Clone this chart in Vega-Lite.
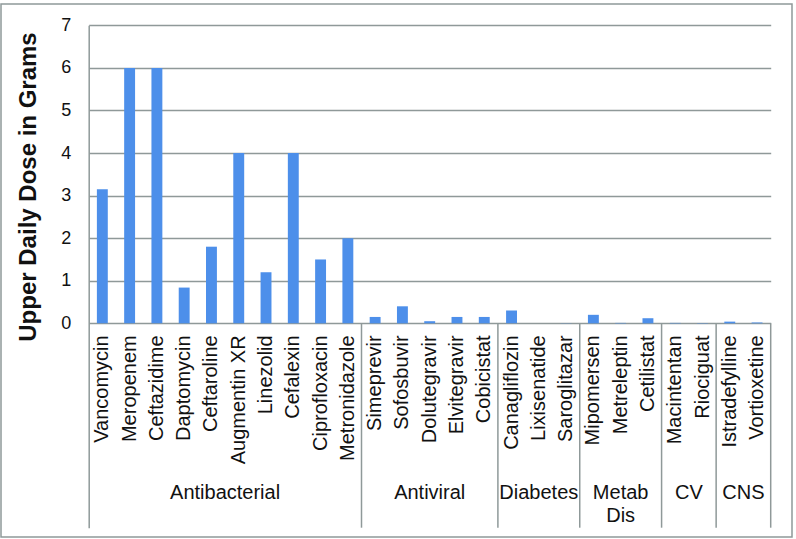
{
  "$schema": "https://vega.github.io/schema/vega-lite/v6.json",
  "width": 791,
  "height": 533,
  "autosize": {"type": "none"},
  "padding": {"left": 1, "top": 4, "right": 4, "bottom": 2},
  "background": "white",
  "config": {
    "view": {"stroke": "#8f9999", "strokeWidth": 1.5},
    "font": "Liberation Sans"
  },
  "data": {
    "values": [
      {"drug": "Vancomycin", "group": "Antibacterial", "dose": 3.15},
      {"drug": "Meropenem", "group": "Antibacterial", "dose": 6},
      {"drug": "Ceftazidime", "group": "Antibacterial", "dose": 6},
      {"drug": "Daptomycin", "group": "Antibacterial", "dose": 0.84},
      {"drug": "Ceftaroline", "group": "Antibacterial", "dose": 1.8},
      {"drug": "Augmentin XR", "group": "Antibacterial", "dose": 4},
      {"drug": "Linezolid", "group": "Antibacterial", "dose": 1.2},
      {"drug": "Cefalexin", "group": "Antibacterial", "dose": 4},
      {"drug": "Ciprofloxacin", "group": "Antibacterial", "dose": 1.5},
      {"drug": "Metronidazole", "group": "Antibacterial", "dose": 2},
      {"drug": "Simeprevir", "group": "Antiviral", "dose": 0.15},
      {"drug": "Sofosbuvir", "group": "Antiviral", "dose": 0.4},
      {"drug": "Dolutegravir", "group": "Antiviral", "dose": 0.05},
      {"drug": "Elvitegravir", "group": "Antiviral", "dose": 0.15},
      {"drug": "Cobicistat", "group": "Antiviral", "dose": 0.15},
      {"drug": "Canagliflozin", "group": "Diabetes", "dose": 0.3},
      {"drug": "Lixisenatide", "group": "Diabetes", "dose": 0.00002},
      {"drug": "Saroglitazar", "group": "Diabetes", "dose": 0.004},
      {"drug": "Mipomersen", "group": "Metab Dis", "dose": 0.2},
      {"drug": "Metreleptin", "group": "Metab Dis", "dose": 0.01},
      {"drug": "Cetilistat", "group": "Metab Dis", "dose": 0.12},
      {"drug": "Macintentan", "group": "CV", "dose": 0.01},
      {"drug": "Riociguat", "group": "CV", "dose": 0.0075},
      {"drug": "Istradefylline", "group": "CNS", "dose": 0.04},
      {"drug": "Vortioxetine", "group": "CNS", "dose": 0.02}
    ]
  },
  "layer": [
    {
      "mark": {"type": "bar", "color": "#4d8fea", "width": {"band": 0.4}},
      "encoding": {
        "x": {
          "field": "drug", "type": "nominal", "sort": null, "axis": null,
          "scale": {
            "domain": ["Vancomycin", "Meropenem", "Ceftazidime", "Daptomycin", "Ceftaroline", "Augmentin XR", "Linezolid", "Cefalexin", "Ciprofloxacin", "Metronidazole", "Simeprevir", "Sofosbuvir", "Dolutegravir", "Elvitegravir", "Cobicistat", "Canagliflozin", "Lixisenatide", "Saroglitazar", "Mipomersen", "Metreleptin", "Cetilistat", "Macintentan", "Riociguat", "Istradefylline", "Vortioxetine"],
            "range": [87.7, 769.7], "paddingInner": 0, "paddingOuter": 0
          }
        },
        "y": {
          "field": "dose", "type": "quantitative",
          "scale": {"domain": [-4.8, 7], "range": [523.7, 21.3], "nice": false, "zero": true},
          "axis": {
            "values": [0, 1, 2, 3, 4, 5, 6, 7],
            "offset": -87.7,
            "grid": true, "gridColor": "#8f9999", "gridWidth": 1.5,
            "domain": true, "domainColor": "#8f9999", "domainWidth": 1.5,
            "ticks": false,
            "labelFontSize": 18, "labelColor": "#111111", "labelPadding": 18,
            "labelFont": "Liberation Sans",
            "title": "Upper Daily Dose in Grams",
            "titleFont": "Liberation Sans", "titleFontSize": 24, "titleFontWeight": "bold",
            "titleColor": "#111111", "titleY": 182.5, "titlePadding": 20
          }
        }
      }
    },
    {
      "transform": [{"filter": {"field": "drug", "oneOf": ["Simeprevir", "Canagliflozin", "Mipomersen", "Macintentan", "Istradefylline"]}}],
      "mark": {"type": "rule", "color": "#8f9999", "strokeWidth": 1.5},
      "encoding": {
        "x": {"field": "drug", "type": "nominal", "sort": null, "bandPosition": 0, "axis": null},
        "y": {"datum": 0},
        "y2": {"datum": -4.8}
      }
    },
    {
      "transform": [{"filter": {"field": "drug", "equal": "Vortioxetine"}}],
      "mark": {"type": "rule", "color": "#8f9999", "strokeWidth": 1.5},
      "encoding": {
        "x": {"field": "drug", "type": "nominal", "sort": null, "bandPosition": 1, "axis": null},
        "y": {"datum": 0},
        "y2": {"datum": -4.8}
      }
    },
    {
      "mark": {"type": "text", "angle": 270, "align": "right", "baseline": "middle", "dx": -12, "fontSize": 20, "color": "#111111", "font": "Liberation Sans"},
      "encoding": {
        "x": {"field": "drug", "type": "nominal", "sort": null, "axis": null},
        "y": {"datum": 0},
        "text": {"field": "drug"}
      }
    },
    {
      "transform": [{"filter": {"field": "drug", "oneOf": ["Dolutegravir", "Lixisenatide", "Metreleptin"]}}],
      "mark": {"type": "text", "align": "center", "baseline": "alphabetic", "fontSize": 20, "color": "#111111", "lineBreak": " ", "lineHeight": 22.7, "font": "Liberation Sans"},
      "encoding": {
        "x": {"field": "drug", "type": "nominal", "sort": null, "axis": null},
        "y": {"datum": -4.127},
        "text": {"field": "group"}
      }
    },
    {
      "transform": [{"filter": {"field": "drug", "oneOf": ["Augmentin XR", "Riociguat", "Vortioxetine"]}}],
      "mark": {"type": "text", "align": "center", "baseline": "alphabetic", "fontSize": 20, "color": "#111111", "lineBreak": " ", "lineHeight": 22.7, "font": "Liberation Sans"},
      "encoding": {
        "x": {"field": "drug", "type": "nominal", "sort": null, "bandPosition": 0, "axis": null},
        "y": {"datum": -4.127},
        "text": {"field": "group"}
      }
    }
  ]
}
